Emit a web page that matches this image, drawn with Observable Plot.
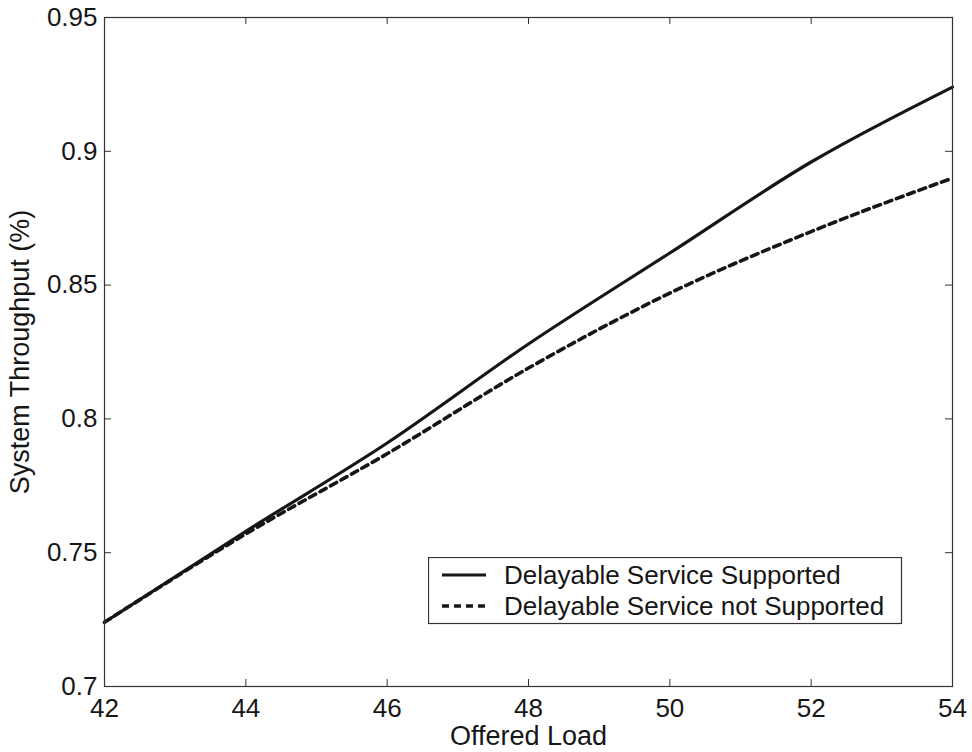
<!DOCTYPE html>
<html>
<head>
<meta charset="utf-8">
<script src="https://cdn.jsdelivr.net/npm/d3@7"></script>
<script src="https://cdn.jsdelivr.net/npm/@observablehq/plot@0.6"></script>
<style>
  html, body { margin: 0; padding: 0; background: #fff; }
  #wrap { position: relative; width: 972px; height: 752px; font-family: "Liberation Sans", Arial, sans-serif; }
  #legend { position: absolute; left: 428px; top: 557px; }
</style>
</head>
<body>
<div id="wrap"></div>
<script>
// ---- data ----
const offeredLoad = [42, 44, 46, 48, 50, 52, 54];
const supported = [0.724, 0.758, 0.791, 0.828, 0.862, 0.896, 0.924];
const notSupported = [0.724, 0.757, 0.787, 0.819, 0.847, 0.870, 0.890];
const seriesNames = ["Delayable Service Supported", "Delayable Service not Supported"];
const xTicks = [42, 44, 46, 48, 50, 52, 54];
const yTicks = [0.7, 0.75, 0.8, 0.85, 0.9, 0.95];
const xLabel = "Offered Load";
const yLabel = "System Throughput (%)";

const rows = [];
offeredLoad.forEach((x, i) => {
  rows.push({x, y: supported[i], s: seriesNames[0]});
  rows.push({x, y: notSupported[i], s: seriesNames[1]});
});

const W = 972, H = 752;
const mL = 104, mR = 20, mT = 17, mB = 66;
const innerW = W - mL - mR, innerH = H - mT - mB;
const TK = 7;
const ink = "#161616";
const fontFam = "'Liberation Sans', Arial, sans-serif";

const chart = Plot.plot({
  width: W,
  height: H,
  marginLeft: mL,
  marginRight: mR,
  marginTop: mT,
  marginBottom: mB,
  style: {fontFamily: fontFam, fontSize: "26px", color: ink, background: "#fff"},
  x: {domain: [42, 54]},
  y: {domain: [0.7, 0.95]},
  marks: [
    Plot.axisX({ticks: xTicks, tickSize: 0, tickPadding: 12, tickFormat: d => String(d), label: null, fontSize: 26}),
    Plot.axisY({ticks: yTicks, tickSize: 0, tickPadding: 7, tickFormat: d => String(d), label: null, fontSize: 26}),
    // inward ticks on all four sides
    Plot.tickX(xTicks, {x: d => d, insetTop: innerH - TK, stroke: "#333", strokeWidth: 1}),
    Plot.tickX(xTicks, {x: d => d, insetBottom: innerH - TK, stroke: "#333", strokeWidth: 1}),
    Plot.tickY(yTicks, {y: d => d, insetRight: innerW - TK, stroke: "#333", strokeWidth: 1}),
    Plot.tickY(yTicks, {y: d => d, insetLeft: innerW - TK, stroke: "#333", strokeWidth: 1}),
    Plot.line(rows.filter(d => d.s === seriesNames[0]), {x: "x", y: "y", curve: "monotone-x", stroke: ink, strokeWidth: 3.2}),
    Plot.line(rows.filter(d => d.s === seriesNames[1]), {x: "x", y: "y", curve: "monotone-x", stroke: ink, strokeWidth: 3.6, strokeDasharray: "7,5"}),
    Plot.frame({stroke: "#333", strokeWidth: 1.2}),
    Plot.text([xLabel], {text: d => d, frameAnchor: "bottom", lineAnchor: "middle", dy: 50, fontSize: 27, fill: ink}),
    Plot.text([yLabel], {text: d => d, frameAnchor: "left", textAnchor: "middle", lineAnchor: "middle", dx: -84, rotate: -90, fontSize: 27, fill: ink})
  ]
});
document.getElementById("wrap").appendChild(chart);

// legend
const lg = d3.select("#wrap").append("svg")
  .attr("id", "legend")
  .attr("width", 475).attr("height", 68);
lg.append("rect").attr("x", 0.5).attr("y", 0.5).attr("width", 473).attr("height", 66)
  .attr("fill", "#fff").attr("stroke", "#333").attr("stroke-width", 1.2);
seriesNames.forEach((name, i) => {
  const cy = 18 + i * 31;
  lg.append("line").attr("x1", 14).attr("x2", 58).attr("y1", cy).attr("y2", cy)
    .attr("stroke", ink).attr("stroke-width", i === 1 ? 3.6 : 3.2)
    .attr("stroke-dasharray", i === 1 ? "7,5" : null);
  lg.append("text").attr("x", 76).attr("y", cy).attr("dy", "0.35em")
    .attr("font-family", fontFam)
    .attr("font-size", 26).attr("fill", ink).text(name);
});
</script>
</body>
</html>
